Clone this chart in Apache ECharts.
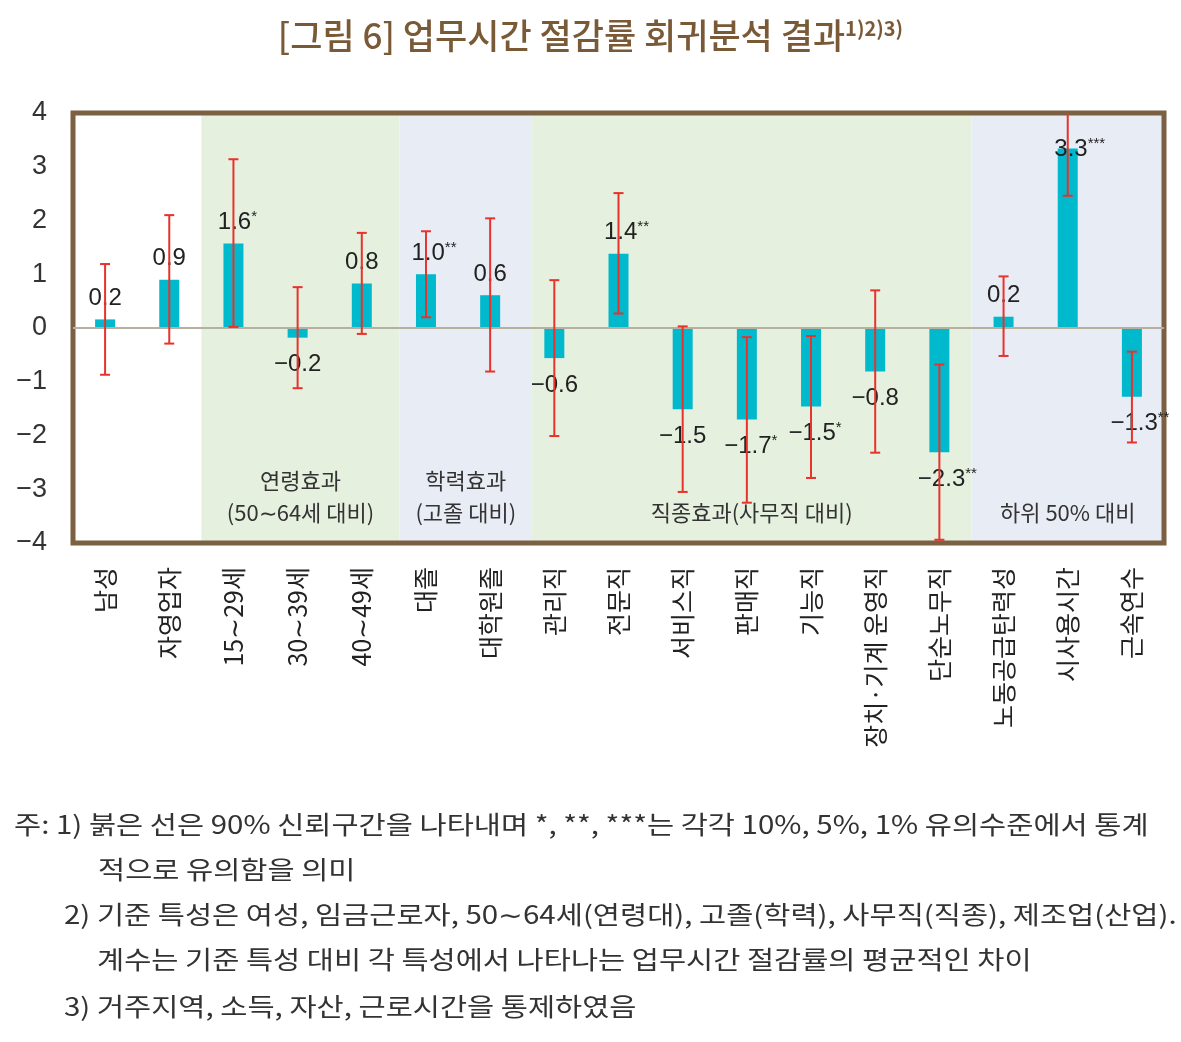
<!DOCTYPE html>
<html>
<head>
<meta charset="utf-8">
<script src="https://cdn.jsdelivr.net/npm/echarts@6/dist/echarts.min.js"></script>
<style>
  html, body { margin: 0; padding: 0; background: #fff; }
  #chart { width: 1181px; height: 1042px; }
</style>
</head>
<body>
<div id="chart"></div>
<script>
// --- Datos ---
const categorias = ['남성', '자영업자', '15∼29세', '30∼39세', '40∼49세', '대졸', '대학원졸', '관리직', '전문직',
    '서비스직', '판매직', '기능직', '장치·기계 운영직', '단순노무직', '노동공급탄력성', '시사용시간', '근속연수'];
const coeficientes = [0.16, 0.90, 1.57, -0.18, 0.83, 1.00, 0.61, -0.56, 1.38, -1.51, -1.70, -1.46, -0.81, -2.31, 0.21, 3.34, -1.28];
const estrellas = ['', '', '*', '', '', '**', '', '', '**', '', '*', '*', '', '**', '', '***', '**'];
const icBajo = [-0.87, -0.29, 0.02, -1.12, -0.11, 0.20, -0.81, -2.01, 0.27, -3.05, -3.25, -2.79, -2.32, -3.94, -0.52, 2.46, -2.13];
const icAlto = [1.19, 2.10, 3.14, 0.76, 1.77, 1.80, 2.04, 0.89, 2.51, 0.03, -0.17, -0.15, 0.70, -0.68, 0.96, 4.22, -0.44];

// grupos de fondo (en unidades de categoría)
const grupoNombres = ['연령효과\n(50∼64세 대비)', '학력효과\n(고졸 대비)', '직종효과(사무직 대비)', '하위 50% 대비'];
const grupoDesde = [2, 5.09, 7.15, 14];
const grupoHasta = [5.09, 7.15, 14, 17];
const grupoColores = ['#e6f0df', '#e8ecf5', '#e6f0df', '#e8ecf5'];

const notas = [
    '주: 1) 붉은 선은 90% 신뢰구간을 나타내며 *, **, ***는 각각 10%, 5%, 1% 유의수준에서 통계',
    '적으로 유의함을 의미',
    '2) 기준 특성은 여성, 임금근로자, 50∼64세(연령대), 고졸(학력), 사무직(직종), 제조업(산업).',
    '계수는 기준 특성 대비 각 특성에서 나타나는 업무시간 절감률의 평균적인 차이',
    '3) 거주지역, 소득, 자산, 근로시간을 통제하였음'
];

const FUENTE = '"Noto Sans CJK KR", "Noto Sans", sans-serif';
const NUM = '"Liberation Sans", Arial, sans-serif';
const Y_MAX = 4;

function fmt(v) {
    return v.toFixed(1).replace('-', '−');
}

var myChart = echarts.init(document.getElementById('chart'));

// etiquetas: arriba si positivo, abajo si negativo; si no cabe arriba se mete sobre la barra
const datosBarras = coeficientes.map((v, i) => ({
    value: v,
    label: {
        position: v >= 0 ? 'top' : 'bottom',
        distance: v >= 0 ? (v > Y_MAX - 0.8 ? -14 : 8) : 14,
        offset: [estrellas[i].length * 4, 0],
        formatter: '{n|' + fmt(v) + '}' + (estrellas[i] ? '{s|' + estrellas[i] + '}' : '')
    }
}));

const notasGraphic = notas.map((t, i) => ({
    type: 'text',
    left: [14, 98, 64, 97, 64][i],
    top: [812, 857, 902, 947, 994][i],
    scaleX: 1.18,
    style: { text: t, font: '25px ' + FUENTE, fill: '#333' }
}));

myChart.setOption({
    animation: false,
    title: {
        text: '{a|[그림 6] 업무시간 절감률 회귀분석 결과}{b|1)2)3)}',
        left: 'center',
        top: 13,
        textStyle: {
            rich: {
                a: { fontSize: 35, fontFamily: FUENTE, fontWeight: 500, color: '#7a5a36' },
                b: { fontSize: 20, fontFamily: FUENTE, color: '#7a5a36', verticalAlign: 'top' }
            }
        }
    },
    grid: {
        left: 73, right: 17, top: 113, bottom: 499,
        show: true,
        borderColor: '#7b6142',
        borderWidth: 5,
        backgroundColor: 'transparent'
    },
    xAxis: {
        type: 'category',
        data: categorias,
        axisLine: { show: false },
        axisTick: { show: false },
        axisLabel: {
            rotate: 90,
            margin: 24,
            interval: 0,
            fontSize: 25,
            fontFamily: FUENTE,
            color: '#222'
        }
    },
    yAxis: {
        type: 'value',
        min: -4, max: Y_MAX, interval: 1,
        axisLine: { show: false },
        axisTick: { show: false },
        splitLine: { show: false },
        axisLabel: {
            margin: 26,
            fontSize: 27,
            fontFamily: NUM,
            color: '#333',
            formatter: (v) => String(v).replace('-', '−')
        }
    },
    graphic: notasGraphic,
    series: [
        {
            // fondos de grupos
            type: 'custom',
            z: -1,
            silent: true,
            data: grupoDesde.map((d, i) => [i, 0]),
            encode: { x: 0, y: 1 },
            renderItem: function (params, api) {
                const i = params.dataIndex;
                const bw = api.size([1, 0])[0];
                const base = api.coord([0, 4]);
                const bottom = api.coord([0, -4])[1];
                const x0 = base[0] - bw / 2 + grupoDesde[i] * bw;
                const x1 = base[0] - bw / 2 + grupoHasta[i] * bw;
                return {
                    type: 'group',
                    children: [
                        {
                            type: 'rect',
                            shape: { x: x0, y: base[1], width: x1 - x0, height: bottom - base[1] },
                            style: { fill: grupoColores[i] }
                        },
                        {
                            type: 'text',
                            style: {
                                text: grupoNombres[i],
                                x: (x0 + x1) / 2,
                                y: bottom - 14,
                                align: 'center',
                                verticalAlign: 'bottom',
                                lineHeight: 32,
                                font: '22px ' + FUENTE,
                                fill: '#333'
                            }
                        }
                    ]
                };
            }
        },
        {
            name: '계수',
            type: 'bar',
            z: 2,
            barWidth: 20,
            itemStyle: { color: '#00b9cc' },
            label: {
                show: true,
                rich: {
                    n: { fontSize: 24, fontFamily: NUM, color: '#222', lineHeight: 26 },
                    s: { fontSize: 15, fontFamily: NUM, color: '#222', verticalAlign: 'top', lineHeight: 26 }
                }
            },
            markLine: {
                silent: true,
                symbol: 'none',
                label: { show: false },
                lineStyle: { color: '#b8afa0', width: 2, type: 'solid' },
                data: [{ yAxis: 0 }]
            },
            data: datosBarras
        },
        {
            // intervalos de confianza 90%
            type: 'custom',
            z: 5,
            clip: true,
            data: categorias.map((c, i) => [i, icBajo[i], icAlto[i]]),
            encode: { x: 0, y: [1, 2] },
            renderItem: function (params, api) {
                const x = api.value(0);
                const top = api.coord([x, api.value(2)]);
                const bot = api.coord([x, api.value(1)]);
                const cap = 5;
                const st = { stroke: '#e8322b', lineWidth: 2 };
                return {
                    type: 'group',
                    children: [
                        { type: 'line', shape: { x1: top[0], y1: top[1], x2: bot[0], y2: bot[1] }, style: st },
                        { type: 'line', shape: { x1: top[0] - cap, y1: top[1], x2: top[0] + cap, y2: top[1] }, style: st },
                        { type: 'line', shape: { x1: bot[0] - cap, y1: bot[1], x2: bot[0] + cap, y2: bot[1] }, style: st }
                    ]
                };
            }
        }
    ]
});
</script>
</body>
</html>
